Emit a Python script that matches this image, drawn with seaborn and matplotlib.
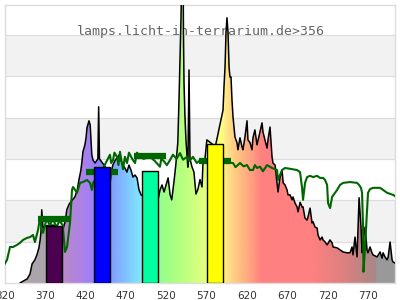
import numpy as np
import matplotlib
matplotlib.use("Agg")
import matplotlib.pyplot as plt
import seaborn as sns
from matplotlib.colors import LinearSegmentedColormap

# ---------------- data ----------------
title = "lamps.licht-in-terrarium.de>356"

spec_wl = [339, 348, 351.5, 354, 357.5, 360, 362.5, 364, 365, 366,
           367.5, 370, 380, 392, 395, 397, 400, 402, 405, 407,
           410, 412, 414.5, 416, 417, 419.5, 421, 422, 424.5, 426,
           427, 428, 429.5, 432, 435.5, 436.5, 437.5, 445, 450.5, 452,
           454, 457, 459, 462, 464, 466.5, 469, 471.5, 474, 476.5,
           479, 481.5, 484, 486.5, 489, 495, 505, 510, 512.5, 515,
           517.5, 520, 522.5, 525, 527, 530, 532, 534.5, 536, 537,
           538.5, 539.7, 541, 541.5, 542.2, 543.4, 544.6, 546, 547, 548.4,
           549.6, 552, 554.5, 557, 559.5, 562, 564.5, 565.7, 568, 570.5,
           581, 590.5, 591.7, 593, 594.2, 595.4, 596.7, 597.3, 598, 599.1,
           600.4, 601.6, 602.9, 604.1, 605.3, 607.8, 609, 611.5, 614, 615.2,
           617.7, 620.2, 621.4, 624, 626.4, 627.6, 630, 632.6, 634, 636.3,
           638.8, 640, 642.5, 645, 646.2, 648.7, 651.2, 652.4, 655, 657.4,
           658.6, 661, 663.6, 665, 667.3, 669.8, 671, 673.5, 676, 677.2,
           679.7, 682.2, 683.4, 686, 688.4, 689.6, 692, 694.6, 695.8, 698.3,
           700.8, 702, 704.5, 707, 708.2, 710.7, 713.2, 714.4, 717, 719.4,
           723, 725.6, 726.8, 731.8, 735.4, 739.2, 744, 747.8, 750.3, 751.5,
           754, 756.5, 757.7, 759, 761.4, 762.7, 763.9, 766.4, 768.9, 770,
           772.6, 775, 776.3, 781.3, 785, 787.5, 788.7, 791.2, 793.7, 795,
           797.4, 799.9, 801, 803.6]
spec_val = [0, 1.0, 2.2, 4.6, 5.6, 6.8, 8.5, 10.4, 12.3, 17.7,
            13.3, 13.8, 14.0, 12.8, 14.8, 17.7, 19.1, 19.6, 20.3, 20.8,
            22.5, 24.9, 27.3, 29.7, 31.7, 33.4, 35.3, 37.5, 39.2, 38.2,
            34.6, 31.0, 29.7, 29.0, 30.0, 42.6, 30.0, 28.0, 23.7, 26.8,
            28.5, 29.7, 30.2, 31.0, 29.7, 28.5, 27.8, 26.8, 28.5, 27.3,
            25.6, 26.1, 25.4, 22.5, 21.3, 20.5, 20.0, 20.1, 22.5, 23.7,
            22.0, 23.7, 25.4, 21.3, 20.1, 24.9, 28.5, 33.9, 44.3, 52.2,
            64.3, 80.0, 80.0, 60.5, 48.4, 40.1, 34.6, 30.5, 28.0, 51.5,
            30.0, 28.1, 26.8, 21.5, 22.7, 25.0, 23.2, 29.0, 29.7, 34.6,
            33.0, 41.8, 47.4, 52.2, 60.5, 64.1, 60.5, 56.3, 52.2, 49.8,
            49.8, 44.3, 40.1, 37.7, 35.3, 33.9, 32.2, 35.1, 32.9, 32.2,
            35.3, 39.2, 34.6, 33.9, 32.2, 35.1, 37.0, 33.4, 34.6, 36.5,
            38.7, 36.5, 34.6, 32.6, 34.6, 37.7, 30.5, 29.0, 28.5, 24.2,
            22.0, 25.4, 27.3, 24.2, 23.7, 22.5, 21.3, 21.3, 20.1, 20.8,
            19.3, 18.4, 17.2, 19.5, 18.4, 18.4, 15.7, 15.2, 16.0, 18.1,
            14.5, 14.8, 13.5, 13.3, 11.6, 10.4, 11.1, 10.4, 9.9, 9.2,
            10.4, 9.7, 8.7, 8.5, 8.0, 7.5, 7.3, 7.3, 8.7, 6.8,
            11.1, 6.3, 13.5, 20.6, 13.5, 7.3, 10.4, 13.5, 8.0, 7.3,
            8.7, 7.3, 6.8, 6.3, 7.5, 6.0, 7.3, 6.3, 5.6, 6.3,
            9.9, 5.6, 5.1, 4.8]

ref_wl = [314, 318, 323, 326.7, 330.4, 335.4, 339, 342.8, 347.7, 351.5,
          355.2, 357.6, 361.4, 363.8, 366, 367.6, 372, 376, 380, 384,
          388, 392, 394.8, 397.3,
          401, 403.5, 404.7, 409.7, 413.4, 417.1, 422, 425.8, 428.2, 429.5,
          440, 450.5, 452, 454.3, 456, 459.2, 461, 462.9, 466.6, 469,
          471.6, 474, 478, 481.5, 484, 486, 492, 500, 506, 512.4,
          514, 517, 521, 524.8, 528.5, 533, 537.2, 541, 545.9, 549,
          553.3, 558, 562, 580, 602.9, 606, 611.5, 616, 620.2, 623.9,
          627.6, 630, 632.6, 636.3, 640, 645,
          651.2, 657.4, 658.6, 663.6, 667.3, 673.5, 682.2, 685.9, 688.4, 689.6,
          692.1, 694.6, 698.3, 702, 707, 710.7, 714.4, 716.9, 719.4, 720.6,
          723.1, 725.6, 731.8, 735.4, 739.2, 747.8, 756.5, 759, 761.4, 762.7,
          763.9, 764.5, 766.4, 768.9, 770.1, 772.6, 776.3, 785, 788.7, 793.7,
          801.1, 805]
ref_val = [2.4, 3.9, 5.6, 8.7, 8.7, 9.2, 9.7, 10.4, 10.9, 11.1,
           11.6, 9.9, 12.8, 15.7, 13.0, 12.1, 15.5, 14.0, 15.5, 13.5,
           15.0, 14.0, 7.5, 8.7,
           14.5, 22.5, 23.2, 21.8, 24.2, 24.4, 24.9, 24.2, 22.5, 24.2,
           27.0, 31.0, 29.0, 29.7, 31.5, 30.5, 28.5, 31.7, 27.5, 30.5,
           29.0, 31.5, 30.0, 29.0, 31.5, 31.0, 30.0, 30.5, 29.5, 28.1,
           30.0, 29.5, 28.5, 29.7, 31.0, 30.0, 31.4, 29.8, 30.5, 29.5,
           30.5, 29.0, 29.7, 29.5, 29.0, 28.0, 29.0, 28.2, 28.5, 27.3,
           27.3, 28.5, 27.8, 28.1, 27.0, 28.5,
           27.8, 27.3, 24.9, 27.3, 27.8, 27.6, 27.3, 26.8, 23.0, 20.1,
           24.2, 25.6, 25.9, 25.6, 25.9, 25.4, 25.4, 24.9, 23.7, 19.3,
           18.1, 20.8, 22.5, 23.7, 24.2, 24.4, 24.2, 23.7, 23.0, 21.8,
           13.5, 2.7, 8.7, 17.7, 21.8, 22.7, 23.0, 23.0, 22.5, 21.8,
           21.3, 20.8]

band_centers = [381, 441, 500, 581]
bar_values = [13.8, 28.1, 27.1, 33.6]
bar_colors = ['#4b0050', '#0000ff', '#00ffa0', '#ffff00']
ref_band_values = [15.5, 26.8, 30.8, 29.5]

xticks = [320, 370, 420, 470, 520, 570, 620, 670, 720, 770]

fill_stops = [(320, '#aba5ab'), (378, '#aba5ab'), (395, '#b888cc'), (420, '#a880f0'),
              (435, '#9080ff'), (452, '#80a0ff'), (470, '#80c4ff'), (488, '#80e8ff'),
              (505, '#80ffb8'), (515, '#98ff88'), (540, '#b8ff80'), (560, '#d8ff80'),
              (575, '#f0ff80'), (588, '#ffff80'), (596, '#ffe088'), (610, '#ffc080'),
              (625, '#ffa080'), (638, '#ff8080'), (700, '#ff8080'), (745, '#d88080'),
              (779, '#a88888'), (780, '#999999'), (803.5, '#999999')]

# ---------------- figure ----------------
sns.set_style("white")
plt.rcParams['font.family'] = ['DejaVu Sans']

XMIN, XMAX, YMAX = 320, 803.5, 67.2
fig = plt.figure(figsize=(4, 3), dpi=100)
ax = fig.add_axes([0.0115, 0.0567, 0.976, 0.9267])

for lo in (10, 30, 50):
    ax.axhspan(lo, lo + 10, color='#f2f2f2', lw=0, zorder=0)
for g in range(10, 61, 10):
    ax.axhline(g, color='#dddddd', lw=0.9, zorder=0.5)

ax.text(0.502, 0.903, title, transform=ax.transAxes, ha='center', va='center',
        family='DejaVu Sans Mono', fontsize=9.5, color='#666666', zorder=1)

# gradient-coloured fill under the spectrum
poly = ax.fill_between(spec_wl, spec_val, 0, facecolor='none', edgecolor='none')
cmap = LinearSegmentedColormap.from_list(
    'spec', [((w - XMIN) / (XMAX - XMIN), c) for w, c in fill_stops])
grad = np.linspace(0, 1, 1000).reshape(1, -1)
im = ax.imshow(grad, cmap=cmap, extent=[XMIN, XMAX, 0, YMAX], aspect='auto',
               origin='lower', zorder=2, interpolation='bilinear')
im.set_clip_path(poly.get_paths()[0], transform=ax.transData)

sns.lineplot(x=spec_wl, y=spec_val, color='black', lw=1.1, ax=ax,
             estimator=None, sort=False, zorder=3)
sns.lineplot(x=ref_wl, y=ref_val, color='#006600', lw=1.5, ax=ax,
             estimator=None, sort=False, zorder=4)

bc = np.array(band_centers)
ax.hlines(ref_band_values, bc - 20, bc + 20, color='#006600', lw=4.5, zorder=4)
ax.bar(band_centers, bar_values, width=20, color=bar_colors,
       edgecolor='black', lw=1.0, zorder=5)

ax.set_xlim(XMIN, XMAX)
ax.set_ylim(0, YMAX)
ax.set_xticks(xticks)
ax.set_xticklabels([str(t) for t in xticks])
ax.set_yticks([])
ax.set_xlabel('')
ax.set_ylabel('')
ax.tick_params(axis='x', length=0, pad=6, labelsize=7.5, labelcolor='#333333')
for s in ax.spines.values():
    s.set_color('#dddddd')
    s.set_linewidth(1.0)

fig.savefig('out.png', dpi=100)
